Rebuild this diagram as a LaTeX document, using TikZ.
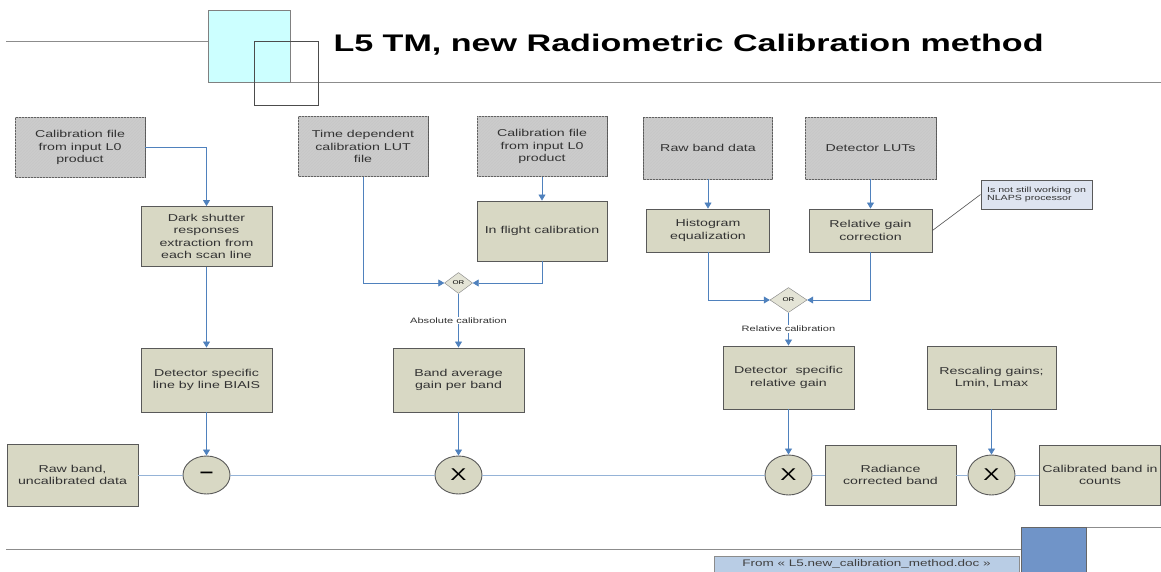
\documentclass[tikz,border=0pt]{standalone}
\usepackage{fontspec}
\setmainfont[FakeStretch=1.42]{Liberation Sans}
\usetikzlibrary{arrows.meta,shapes.geometric,patterns}
\definecolor{procfill}{RGB}{216,216,196}
\definecolor{srcfill}{RGB}{204,204,204}
\definecolor{linkblue}{RGB}{79,129,189}
\definecolor{mainblue}{RGB}{149,179,215}
\definecolor{notefill}{RGB}{222,228,240}
\definecolor{footfill}{RGB}{185,205,229}
\definecolor{sqblue}{RGB}{112,148,200}
\definecolor{sqcyan}{RGB}{204,255,255}
\begin{document}
\begin{tikzpicture}[x=1pt,y=-1pt,
	box/.style={draw=black!65,line width=.9pt,minimum width=130,minimum height=60,inner sep=2pt,align=center,text=black!80,font=\fontsize{10}{12.3}\selectfont},
	proc/.style={box,fill=procfill},
	src/.style={box,fill=srcfill,postaction={pattern=north east lines,pattern color=black!22}},
	op/.style={ellipse,draw=black!65,line width=.9pt,fill=procfill,minimum width=47,minimum height=38,inner sep=0pt,font=\fontsize{17}{17}\selectfont},
	orgate/.style={diamond,draw=black!50,fill=procfill!70,minimum width=28,minimum height=21,inner sep=0pt,font=\fontsize{5.5}{6}\selectfont},
	link/.style={draw=linkblue,line width=.8pt,-{Triangle[width=7pt,length=6pt]}},
	mainline/.style={draw=mainblue,line width=1pt},
	lbl/.style={fill=white,inner sep=1pt,text=black!80,font=\fontsize{7.8}{8}\selectfont}]
	\useasboundingbox(0,0)rectangle(1161,571);
	\draw[black!45,line width=1pt](6,41)--(254,41) (290,82)--(1161,82);
	\draw[black!50,fill=sqcyan](208,10)rectangle(290,82);
	\draw[black!70](254,41)rectangle(318,105);
	\node[anchor=west,font=\bfseries\fontsize{24}{26}\selectfont](title)at(330,45){L5 TM, new Radiometric Calibration method};
	\node[src](src1)at(80,147.5){Calibration file\\from input L0\\product};
	\node[proc,minimum width=131](dark)at(206.5,236.5){Dark shutter\\responses\\extraction from\\each scan line};
	\node[proc,minimum width=131,minimum height=64](bias)at(206.5,380){Detector specific\\line by line BIAIS};
	\node[proc,minimum width=131,minimum height=62](raw)at(72.5,475){Raw band,\\uncalibrated data};
	\node[op](minus)at(206.5,475){\textbf{--}};
	\node[src](src2)at(363,146.5){Time dependent\\calibration LUT\\file};
	\node[src](src3)at(542,146.5){Calibration file\\from input L0\\product};
	\node[proc](flight)at(542,231){In flight calibration};
	\node[orgate](or1)at(458.5,283){OR};
	\node[proc,minimum width=131,minimum height=64](bandavg)at(458.5,380){Band average\\gain per band};
	\node[op](times1)at(458.5,475){X};
	\node[src,minimum width=129,minimum height=62](rawdata)at(708,148){Raw band data};
	\node[src,minimum width=131,minimum height=62](luts)at(870.5,148){Detector LUTs};
	\node[proc,minimum width=123,minimum height=43](histo)at(708,230.5){Histogram\\equalization};
	\node[proc,minimum width=123,minimum height=43](relgain)at(870.5,230.5){Relative gain\\correction};
	\node[draw=black!65,line width=.9pt,fill=notefill,minimum width=111,minimum height=29,inner sep=1pt,align=left,text=black!80,font=\fontsize{7.5}{8.5}\selectfont](note)at(1036.5,194.5){Is not still working on\\NLAPS processor};
	\node[orgate,minimum width=37,minimum height=25](or2)at(788.5,300){OR};
	\node[proc,minimum width=131,minimum height=63](detrel)at(788.5,377.5){Detector~ specific\\relative gain};
	\node[proc,minimum width=129,minimum height=63](rescale)at(991.5,377.5){Rescaling gains;\\Lmin, Lmax};
	\node[op,minimum height=40](times2)at(788.5,475){X};
	\node[proc,minimum width=131](radiance)at(890.5,475){Radiance\\corrected band};
	\node[op,minimum height=40](times3)at(991.5,475){X};
	\node[proc,minimum width=121](calib)at(1100,475){Calibrated band in\\counts};
	\draw[link](src1.east)-|(dark.north);
	\draw[link](dark.south)--(bias.north);
	\draw[link](bias.south)--(minus.north);
	\draw[link](src2.south)|-(or1.west);
	\draw[link](src3.south)--(flight.north);
	\draw[link](flight.south)|-(or1.east);
	\draw[link](or1.south)--node[lbl]{Absolute calibration}(bandavg.north);
	\draw[link](bandavg.south)--(times1.north);
	\draw[link](rawdata.south)--(histo.north);
	\draw[link](luts.south)--(relgain.north);
	\draw[link](histo.south)|-(or2.west);
	\draw[link](relgain.south)|-(or2.east);
	\draw[link](or2.south)--node[lbl]{Relative calibration}(detrel.north);
	\draw[link](detrel.south)--(times2.north);
	\draw[link](rescale.south)--(times3.north);
	\draw[black!70,line width=.6pt](relgain.east)--(note.west);
	\draw[mainline](raw.east)--(minus.west) (minus.east)--(times1.west) (times1.east)--(times2.west)
		(times2.east)--(radiance.west) (radiance.east)--(times3.west) (times3.east)--(calib.west);
	\draw[black!45,line width=1pt](6,549)--(1021,549) (1086,527)--(1161,527);
	\draw[black!60,fill=sqblue](1021,527)rectangle(1086,574);
	\draw[black!45,line width=.9pt,fill=footfill](714,556)rectangle(1019,574);
	\node[text=black!75,font=\fontsize{9.5}{10}\selectfont](foot)at(866.5,564){From « L5.new\_calibration\_method.doc »};
\end{tikzpicture}
\end{document}
